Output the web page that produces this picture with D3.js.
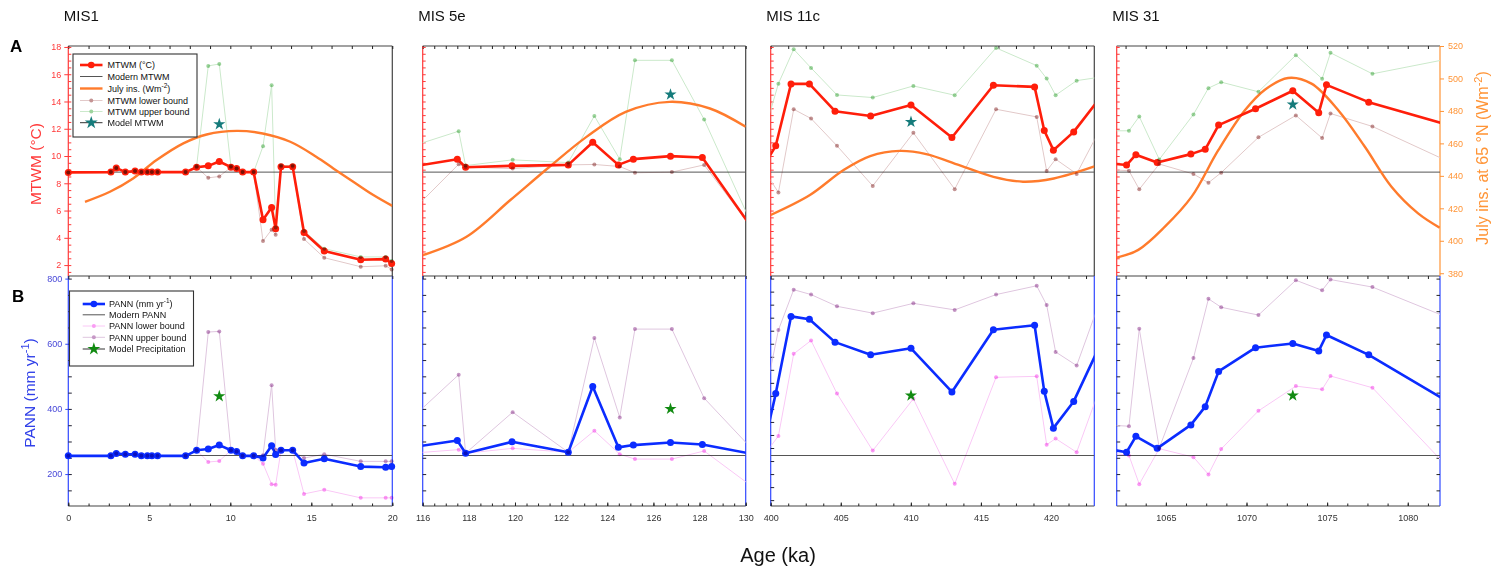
<!DOCTYPE html>
<html lang="en">
<head>
<meta charset="UTF-8">
<title>MTWM and PANN reconstructions for four interglacials</title>
<script src="https://d3js.org/d3.v7.min.js"></script>
<style>
    body { margin: 0; background: #fff; }
    svg { display: block; font-family: "Liberation Sans", Arial, sans-serif; }
    .bound { mix-blend-mode: multiply; }
</style>
</head>
<body>
<svg width="1505" height="571"></svg>
<script>
    // ---- data (ages in ka) ----
    const modernMtwm = 8.82;
    const modernPann = 257;

    // MIS 1
    const mis1Age = [0, 2.63, 2.96, 3.52, 4.12, 4.51, 4.88, 5.16, 5.51, 7.24, 7.92, 8.64, 9.32, 10.04, 10.39, 10.76, 11.44, 12.02, 12.55, 12.80, 13.13, 13.85, 14.55, 15.80, 18.05, 19.59, 19.96];
    const mis1Mtwm = [8.8, 8.82, 9.13, 8.82, 8.9, 8.82, 8.82, 8.82, 8.82, 8.82, 9.18, 9.28, 9.6, 9.18, 9.08, 8.82, 8.82, 5.32, 6.23, 4.66, 9.21, 9.21, 4.39, 3.03, 2.39, 2.44, 2.12];
    const mis1MtwmLow = [8.8, 8.82, 9.13, 8.82, 8.9, 8.82, 8.82, 8.82, 8.82, 8.82, 9.18, 8.4, 8.5, 9.18, 9.08, 8.82, 8.82, 3.76, 4.6, 4.22, 9.21, 9.21, 3.91, 2.54, 1.88, 1.95, 1.68];
    const mis1MtwmUp = [8.8, 8.82, 9.13, 8.82, 8.9, 8.82, 8.82, 8.82, 8.82, 8.82, 9.25, 16.61, 16.75, 9.25, 9.08, 8.82, 8.82, 10.72, 15.2, 4.75, 9.3, 9.3, 4.5, 3.2, 2.6, 2.6, 2.3];
    const mis1Pann = [256, 256, 263, 261, 261, 256, 256, 256, 256, 256, 273, 277, 289, 273, 269, 256, 256, 249, 287, 260, 273, 273, 234, 247, 223, 221, 223];
    const mis1PannLow = [256, 256, 263, 261, 261, 256, 256, 256, 256, 256, 273, 237, 240, 273, 269, 256, 256, 232, 169, 167, 273, 273, 139, 152, 127, 127, 127];
    const mis1PannUp = [256, 256, 263, 261, 261, 256, 256, 256, 256, 256, 273, 636, 638, 273, 269, 256, 256, 258, 473, 275, 273, 273, 249, 261, 239, 239, 239];
    const mis1InsAge = [1.03, 2.57, 4.0, 5.45, 7.1, 8.54, 10.4, 12.0, 13.7, 15.3, 16.36, 17.59, 18.83, 20];
    const mis1Ins = [424.0, 430.2, 438.4, 449.7, 460.0, 465.5, 467.7, 466.1, 461.0, 451.8, 444.6, 436.4, 428.2, 421.5];
    const mis1ModelMtwm = [9.32, 12.33];
    const mis1ModelPann = [9.32, 439];

    // MIS 5e
    const mis5eAge = [115.5, 117.5, 117.86, 119.87, 122.31, 123.37, 124.48, 125.13, 126.74, 128.12, 130.5];
    const mis5eMtwm = [9.21, 9.77, 9.18, 9.28, 9.35, 11.01, 9.35, 9.77, 9.99, 9.89, 4.17];
    const mis5ePann = [282, 303, 264, 299, 267, 469, 282, 289, 297, 291, 259];
    const mis5eBoundAge = [115.5, 117.56, 117.86, 119.9, 122.31, 123.44, 124.54, 125.2, 126.8, 128.2, 130.5];
    const mis5eMtwmLow = [5.9, 9.4, 9.18, 9.08, 9.35, 9.38, 9.23, 8.77, 8.82, 9.35, 4.2];
    const mis5eMtwmUp = [10.7, 11.82, 9.3, 9.72, 9.52, 12.94, 9.77, 17.02, 17.02, 12.68, 4.1];
    const mis5ePannLow = [264, 275, 264, 279, 267, 333, 261, 246, 246, 271, 150];
    const mis5ePannUp = [370, 505, 264, 390, 267, 618, 374, 645, 645, 433, 260];
    const mis5eInsAge = [116, 117.9, 119.8, 121.5, 123.1, 124.8, 126.7, 128.45, 130];
    const mis5eIns = [391.1, 402.5, 425.1, 445.6, 464.0, 479.4, 485.6, 481.5, 470.2];
    const mis5eModelMtwm = [126.74, 14.51];
    const mis5eModelPann = [126.74, 400];

    // MIS 11c
    const mis11Age = [399.7, 400.36, 401.45, 402.76, 404.59, 407.13, 410.01, 412.93, 415.89, 418.83, 419.52, 420.17, 421.62, 423.6];
    const mis11Mtwm = [9.61, 10.75, 15.29, 15.29, 13.29, 12.94, 13.75, 11.36, 15.19, 15.07, 11.87, 10.43, 11.77, 14.41];
    const mis11Pann = [322, 447, 684, 675, 605, 566, 586, 452, 643, 657, 454, 341, 423, 605];
    const mis11BoundAge = [399.5, 400.55, 401.64, 402.88, 404.73, 407.28, 410.18, 413.13, 416.08, 418.98, 419.69, 420.33, 421.83, 423.6];
    const mis11MtwmLow = [9.0, 7.33, 13.43, 12.75, 10.75, 7.81, 11.7, 7.57, 13.43, 12.87, 8.91, 9.77, 8.69, 12.16];
    const mis11MtwmUp = [11.6, 15.31, 17.83, 16.46, 14.48, 14.29, 15.14, 14.46, 17.93, 16.63, 15.68, 14.46, 15.53, 15.8];
    const mis11PannLow = [256, 317, 569, 610, 447, 272, 431, 170, 497, 500, 290, 309, 267, 477];
    const mis11PannUp = [420, 642, 766, 751, 715, 694, 724, 704, 751, 778, 719, 575, 533, 744];
    const mis11InsAge = [400, 402.8, 405.2, 407.1, 409.2, 411.1, 413.5, 415.9, 418.0, 420.2, 423.1];
    const mis11Ins = [415.9, 428.2, 443.6, 452.2, 455.4, 453.4, 446.4, 439.4, 436.4, 438.4, 445.8];
    const mis11ModelMtwm = [410.01, 12.5];
    const mis11ModelPann = [410.01, 441];

    // MIS 31
    const mis31Age = [1061.5, 1062.56, 1063.14, 1064.46, 1066.55, 1067.44, 1068.27, 1070.56, 1072.87, 1074.48, 1074.96, 1077.58, 1082.5];
    const mis31Mtwm = [9.46, 9.34, 10.1, 9.53, 10.14, 10.49, 12.27, 13.47, 14.79, 13.17, 15.22, 13.95, 12.28];
    const mis31Pann = [276, 267, 316, 279, 351, 407, 515, 588, 601, 578, 627, 566, 422];
    const mis31BoundAge = [1061.5, 1062.71, 1063.35, 1064.59, 1066.71, 1067.64, 1068.43, 1070.74, 1073.06, 1074.69, 1075.21, 1077.81, 1082.5];
    const mis31MtwmLow = [9.0, 8.92, 7.56, 9.41, 8.68, 8.04, 8.78, 11.37, 12.98, 11.32, 13.12, 12.17, 9.61];
    const mis31MtwmUp = [11.85, 11.85, 12.9, 9.75, 13.05, 14.98, 15.42, 14.71, 17.4, 15.67, 17.57, 16.03, 17.12];
    const mis31PannLow = [265, 257, 169, 278, 252, 199, 277, 394, 470, 460, 501, 465, 220];
    const mis31PannUp = [350, 347, 646, 280, 556, 738, 712, 688, 795, 764, 797, 774, 680];
    const mis31InsAge = [1061.94, 1063.29, 1064.94, 1066.6, 1068.25, 1069.9, 1071.14, 1072.58, 1074.03, 1075.69, 1077.34, 1078.99, 1080.64, 1081.98];
    const mis31Ins = [389.6, 394.4, 408.7, 427.2, 455.8, 480.4, 493.1, 500.3, 496.8, 480.4, 457.9, 433.3, 416.9, 408.1];
    const mis31ModelMtwm = [1072.87, 13.78];
    const mis31ModelPann = [1072.87, 441];

    // axes
    const panelTitles = ["MIS1", "MIS 5e", "MIS 11c", "MIS 31"];
    const xDomains = [[0, 20], [116, 130], [400, 423.09], [1061.95, 1082]];
    const xTickLabels = [[0, 5, 10, 15, 20], [116, 118, 120, 122, 124, 126, 128, 130], [400, 405, 410, 415, 420], [1065, 1070, 1075, 1080]];
    const xMinorStep = [1.25, 0.5, 1.25, 1.25];
    const mtwmTicks = [2, 4, 6, 8, 10, 12, 14, 16, 18];
    const pannTicks = [200, 400, 600, 800];
    const pannMinorStep = [50, 50, 40, 50];
    const insTicks = [380, 400, 420, 440, 460, 480, 500, 520];

    const panels = [
        { age: mis1Age, mtwm: mis1Mtwm, pann: mis1Pann, bAge: mis1Age, mLow: mis1MtwmLow, mUp: mis1MtwmUp, pLow: mis1PannLow, pUp: mis1PannUp, insAge: mis1InsAge, ins: mis1Ins, starT: mis1ModelMtwm, starP: mis1ModelPann },
        { age: mis5eAge, mtwm: mis5eMtwm, pann: mis5ePann, bAge: mis5eBoundAge, mLow: mis5eMtwmLow, mUp: mis5eMtwmUp, pLow: mis5ePannLow, pUp: mis5ePannUp, insAge: mis5eInsAge, ins: mis5eIns, starT: mis5eModelMtwm, starP: mis5eModelPann },
        { age: mis11Age, mtwm: mis11Mtwm, pann: mis11Pann, bAge: mis11BoundAge, mLow: mis11MtwmLow, mUp: mis11MtwmUp, pLow: mis11PannLow, pUp: mis11PannUp, insAge: mis11InsAge, ins: mis11Ins, starT: mis11ModelMtwm, starP: mis11ModelPann },
        { age: mis31Age, mtwm: mis31Mtwm, pann: mis31Pann, bAge: mis31BoundAge, mLow: mis31MtwmLow, mUp: mis31MtwmUp, pLow: mis31PannLow, pUp: mis31PannUp, insAge: mis31InsAge, ins: mis31Ins, starT: mis31ModelMtwm, starP: mis31ModelPann }
    ];

    const col = {
        red: "#ff1e0a", blue: "#0b2cff", orange: "#ff7b2c",
        mLowDot: "#c49494", mLowLine: "#e2c9c9",
        mUpDot: "#9dd49d", mUpLine: "#cbe9cb",
        pLowDot: "#fa9cf4", pLowLine: "#fac8f6",
        pUpDot: "#c698c6", pUpLine: "#dfc6df",
        teal: "#157b7b", green: "#118a11",
        frame: "#444", modern: "#555",
        redAxis: "#ff3a3a", blueAxis: "#3048ff", orangeAxis: "#ff9436"
    };

    // ---- layout ----
    const svg = d3.select("svg");
    const yTop = 46, yMid = 276, yBot = 506;
    const xRanges = [[68.3, 392.3], [422.7, 745.7], [770.7, 1094.3], [1116.7, 1440]];

    const yTemp = d3.scaleLinear().domain([1.2, 18.07]).range([yMid, yTop]);
    const yIns = d3.scaleLinear().domain([378.3, 520]).range([yMid, yTop]);
    const yPann = d3.scaleLinear().domain([102, 808]).range([yBot, yMid]);

    const star = d3.symbol().type(d3.symbolStar).size(46);
    const intFmt = d3.format("d");

    function cleanAxis(g, color) {
        g.select(".domain").remove();
        g.selectAll(".tick line").attr("stroke", color);
        return g;
    }

    panels.forEach((p, i) => {
        const [x0, x1] = xRanges[i];
        const dom = xDomains[i];
        const x = d3.scaleLinear().domain(dom).range([x0, x1]);
        const inDom = a => a >= dom[0] - 1e-6 && a <= dom[1] + 1e-6;
        const minor = d3.range(Math.ceil(dom[0] / xMinorStep[i]) * xMinorStep[i], dom[1] + 1e-6, xMinorStep[i]);

        svg.append("text")
            .attr("x", x0 - 4.5).attr("y", 21)
            .attr("font-size", 15).attr("fill", "#111")
            .text(panelTitles[i]);

        svg.append("clipPath").attr("id", "clip" + i)
            .append("rect").attr("x", x0).attr("y", yTop).attr("width", x1 - x0).attr("height", yBot - yTop);

        const g = svg.append("g");

        // frame
        [yTop, yMid, yBot].forEach(yy => {
            g.append("line").attr("x1", x0).attr("x2", x1).attr("y1", yy).attr("y2", yy)
                .attr("stroke", col.frame).attr("stroke-width", 1.2);
        });
        g.append("line").attr("x1", x0).attr("x2", x0).attr("y1", yTop).attr("y2", yMid).attr("stroke", col.redAxis).attr("stroke-width", 1.2);
        g.append("line").attr("x1", x0).attr("x2", x0).attr("y1", yMid).attr("y2", yBot).attr("stroke", col.blueAxis).attr("stroke-width", 1.2);
        g.append("line").attr("x1", x1).attr("x2", x1).attr("y1", yTop).attr("y2", yMid)
            .attr("stroke", i === 3 ? col.orangeAxis : col.frame).attr("stroke-width", 1.2);
        g.append("line").attr("x1", x1).attr("x2", x1).attr("y1", yMid).attr("y2", yBot).attr("stroke", col.blueAxis).attr("stroke-width", 1.2);

        // x ticks on every horizontal edge
        g.append("g").attr("transform", `translate(0,${yTop})`)
            .call(d3.axisTop(x).tickValues(minor).tickSize(-3).tickFormat(""))
            .call(a => cleanAxis(a, "#222"));
        g.append("g").attr("transform", `translate(0,${yMid})`)
            .call(d3.axisTop(x).tickValues(minor).tickSize(-3).tickFormat(""))
            .call(a => cleanAxis(a, "#222"));
        g.append("g").attr("transform", `translate(0,${yBot})`)
            .call(d3.axisBottom(x).tickValues(minor).tickSize(-2.5).tickFormat(""))
            .call(a => cleanAxis(a, "#222"));
        g.append("g").attr("transform", `translate(0,${yBot})`)
            .call(d3.axisBottom(x).tickValues(xTickLabels[i]).tickSize(-3.5).tickPadding(9).tickFormat(intFmt))
            .call(a => cleanAxis(a, "#222"))
            .call(a => a.selectAll("text").attr("font-size", 9).attr("fill", "#333").attr("font-family", null));

        // left axes
        g.append("g").attr("transform", `translate(${x0},0)`)
            .call(d3.axisLeft(yTemp).tickValues(d3.range(1.5, 18.01, 0.5)).tickSize(-3).tickFormat(""))
            .call(a => cleanAxis(a, col.redAxis));
        g.append("g").attr("transform", `translate(${x0},0)`)
            .call(d3.axisLeft(yPann).tickValues(d3.range(pannMinorStep[i] * Math.ceil(110 / pannMinorStep[i]), 801, pannMinorStep[i])).tickSize(-3.5).tickFormat(""))
            .call(a => cleanAxis(a, "#223"));

        if (i === 0) {
            g.append("g").attr("transform", `translate(${x0},0)`)
                .call(d3.axisLeft(yTemp).tickValues(mtwmTicks).tickSize(4).tickPadding(3).tickFormat(intFmt))
                .call(a => cleanAxis(a, col.redAxis))
                .call(a => a.selectAll("text").attr("font-size", 9).attr("fill", col.redAxis).attr("font-family", null));
            g.append("g").attr("transform", `translate(${x0},0)`)
                .call(d3.axisLeft(yPann).tickValues(pannTicks).tickSize(3).tickPadding(3).tickFormat(intFmt))
                .call(a => cleanAxis(a, col.blueAxis))
                .call(a => a.selectAll("text").attr("font-size", 9).attr("fill", "#4747d8").attr("font-family", null));
        }
        if (i === 3) {
            g.append("g").attr("transform", `translate(${x1},0)`)
                .call(d3.axisRight(yIns).tickValues(insTicks).tickSize(4).tickPadding(4).tickFormat(intFmt))
                .call(a => cleanAxis(a, col.orangeAxis))
                .call(a => a.selectAll("text").attr("font-size", 9).attr("fill", col.orangeAxis).attr("font-family", null));
            g.append("g").attr("transform", `translate(${x1},0)`)
                .call(d3.axisRight(yPann).tickValues(d3.range(150, 801, 50)).tickSize(-3.5).tickFormat(""))
                .call(a => cleanAxis(a, "#222"));
        }

        // plot content
        const plot = svg.append("g").attr("clip-path", `url(#clip${i})`);
        const marks = svg.append("g");

        plot.append("line").attr("x1", x0).attr("x2", x1).attr("y1", yTemp(modernMtwm)).attr("y2", yTemp(modernMtwm))
            .attr("stroke", col.modern).attr("stroke-width", 1);
        plot.append("line").attr("x1", x0).attr("x2", x1).attr("y1", yPann(modernPann)).attr("y2", yPann(modernPann))
            .attr("stroke", col.modern).attr("stroke-width", 1);

        const drawSeries = (ages, vals, y, lineCol, width, cls) => {
            plot.append("path").datum(d3.zip(ages, vals))
                .attr("class", cls || null)
                .attr("fill", "none").attr("stroke", lineCol).attr("stroke-width", width)
                .attr("stroke-linejoin", "round")
                .attr("d", d3.line().x(d => x(d[0])).y(d => y(d[1])));
        };
        const drawDots = (ages, vals, y, dotCol, r, cls) => {
            marks.selectAll(null).data(d3.zip(ages, vals).filter(d => inDom(d[0])))
                .enter().append("circle")
                .attr("class", cls || null)
                .attr("cx", d => x(d[0])).attr("cy", d => y(d[1])).attr("r", r)
                .attr("fill", dotCol);
        };

        // bounds (lines)
        drawSeries(p.bAge, p.mLow, yTemp, col.mLowLine, 1, "bound");
        drawSeries(p.bAge, p.mUp, yTemp, col.mUpLine, 1, "bound");
        drawSeries(p.bAge, p.pLow, yPann, col.pLowLine, 1, "bound");
        drawSeries(p.bAge, p.pUp, yPann, col.pUpLine, 1, "bound");

        // insolation
        plot.append("path").datum(d3.zip(p.insAge, p.ins))
            .attr("fill", "none").attr("stroke", col.orange).attr("stroke-width", 2.4)
            .attr("d", d3.line().curve(d3.curveCatmullRom.alpha(0.5)).x(d => x(d[0])).y(d => yIns(d[1])));

        // main series
        drawSeries(p.age, p.mtwm, yTemp, col.red, 2.6);
        drawSeries(p.age, p.pann, yPann, col.blue, 2.6);
        drawDots(p.age, p.mtwm, yTemp, col.red, 3.5);
        drawDots(p.age, p.pann, yPann, col.blue, 3.5);

        // bound markers on top, multiplied so overlaps darken
        drawDots(p.bAge, p.mLow, yTemp, col.mLowDot, 2, "bound");
        drawDots(p.bAge, p.mUp, yTemp, col.mUpDot, 2, "bound");
        drawDots(p.bAge, p.pLow, yPann, col.pLowDot, 2, "bound");
        drawDots(p.bAge, p.pUp, yPann, col.pUpDot, 2, "bound");

        // model stars
        marks.append("path").attr("d", star)
            .attr("transform", `translate(${x(p.starT[0])},${yTemp(p.starT[1])})`).attr("fill", col.teal);
        marks.append("path").attr("d", star)
            .attr("transform", `translate(${x(p.starP[0])},${yPann(p.starP[1])})`).attr("fill", col.green);
    });

    // ---- legends ----
    function supText(sel, parts) {
        parts.forEach(([s, sup], k) => {
            if (sup) {
                sel.append("tspan").attr("font-size", 6.5).attr("dy", -4).text(s);
            } else {
                sel.append("tspan").attr("dy", k ? 4 : 0).text(s);
            }
        });
    }

    function legend(box, rows) {
        const lg = svg.append("g");
        lg.append("rect").attr("x", box[0]).attr("y", box[1]).attr("width", box[2]).attr("height", box[3])
            .attr("fill", "#fff").attr("stroke", "#333").attr("stroke-width", 1.1);
        rows.forEach(r => {
            const [lx0, lx1] = r.line;
            lg.append("line").attr("x1", lx0).attr("x2", lx1).attr("y1", r.y).attr("y2", r.y)
                .attr("stroke", r.stroke).attr("stroke-width", r.width);
            const cx = (lx0 + lx1) / 2;
            if (r.dot) lg.append("circle").attr("cx", cx).attr("cy", r.y).attr("r", r.r).attr("fill", r.dot);
            if (r.star) lg.append("path").attr("d", d3.symbol().type(d3.symbolStar).size(52))
                .attr("transform", `translate(${cx},${r.y})`).attr("fill", r.star);
            const t = lg.append("text").attr("x", r.tx).attr("y", r.y + 3.2).attr("font-size", 9).attr("fill", "#111");
            supText(t, r.text);
        });
    }

    const lt = [80, 102.5];
    legend([73, 54, 124, 83], [
        { y: 65, line: lt, stroke: col.red, width: 2.6, dot: col.red, r: 3.3, tx: 107.5, text: [["MTWM (°C)"]] },
        { y: 76.5, line: lt, stroke: col.modern, width: 1, tx: 107.5, text: [["Modern MTWM"]] },
        { y: 88.5, line: lt, stroke: col.orange, width: 2.4, tx: 107.5, text: [["July ins. (Wm"], ["-2", true], [")"]] },
        { y: 100.5, line: lt, stroke: col.mLowLine, width: 1, dot: col.mLowDot, r: 2, tx: 107.5, text: [["MTWM lower bound"]] },
        { y: 111.5, line: lt, stroke: col.mUpLine, width: 1, dot: col.mUpDot, r: 2, tx: 107.5, text: [["MTWM upper bound"]] },
        { y: 122.7, line: lt, stroke: "#333", width: 1, star: col.teal, tx: 107.5, text: [["Model MTWM"]] }
    ]);

    const lb = [82.7, 105];
    legend([69.5, 291, 124, 75], [
        { y: 304, line: lb, stroke: col.blue, width: 2.6, dot: col.blue, r: 3.3, tx: 109, text: [["PANN (mm yr"], ["-1", true], [")"]] },
        { y: 314.8, line: lb, stroke: col.modern, width: 1, tx: 109, text: [["Modern PANN"]] },
        { y: 326, line: lb, stroke: col.pLowLine, width: 1, dot: col.pLowDot, r: 2, tx: 109, text: [["PANN lower bound"]] },
        { y: 337.3, line: lb, stroke: col.pUpLine, width: 1, dot: col.pUpDot, r: 2, tx: 109, text: [["PANN upper bound"]] },
        { y: 349, line: lb, stroke: "#333", width: 1, star: col.green, tx: 109, text: [["Model Precipitation"]] }
    ]);

    // ---- panel letters and axis titles ----
    svg.append("text").attr("x", 10).attr("y", 52).attr("font-size", 17).attr("font-weight", "bold").text("A");
    svg.append("text").attr("x", 12).attr("y", 302).attr("font-size", 17).attr("font-weight", "bold").text("B");

    svg.append("text").attr("transform", "translate(41,164) rotate(-90)")
        .attr("text-anchor", "middle").attr("font-size", 15.5).attr("fill", col.redAxis)
        .text("MTWM (°C)");

    const pannTitle = svg.append("text").attr("transform", "translate(35,393) rotate(-90)")
        .attr("text-anchor", "middle").attr("font-size", 15.5).attr("fill", "#2f3fe8");
    pannTitle.append("tspan").text("PANN (mm yr");
    pannTitle.append("tspan").attr("font-size", 11).attr("dy", -6).text("-1");
    pannTitle.append("tspan").attr("dy", 6).text(")");

    const insTitle = svg.append("text").attr("transform", "translate(1488,158) rotate(-90)")
        .attr("text-anchor", "middle").attr("font-size", 16).attr("fill", col.orangeAxis);
    insTitle.append("tspan").text("July ins. at 65 °N (Wm");
    insTitle.append("tspan").attr("font-size", 11).attr("dy", -6).text("-2");
    insTitle.append("tspan").attr("dy", 6).text(")");

    svg.append("text").attr("x", 778).attr("y", 562).attr("text-anchor", "middle")
        .attr("font-size", 20).attr("fill", "#111").text("Age (ka)");
</script>
</body>
</html>
